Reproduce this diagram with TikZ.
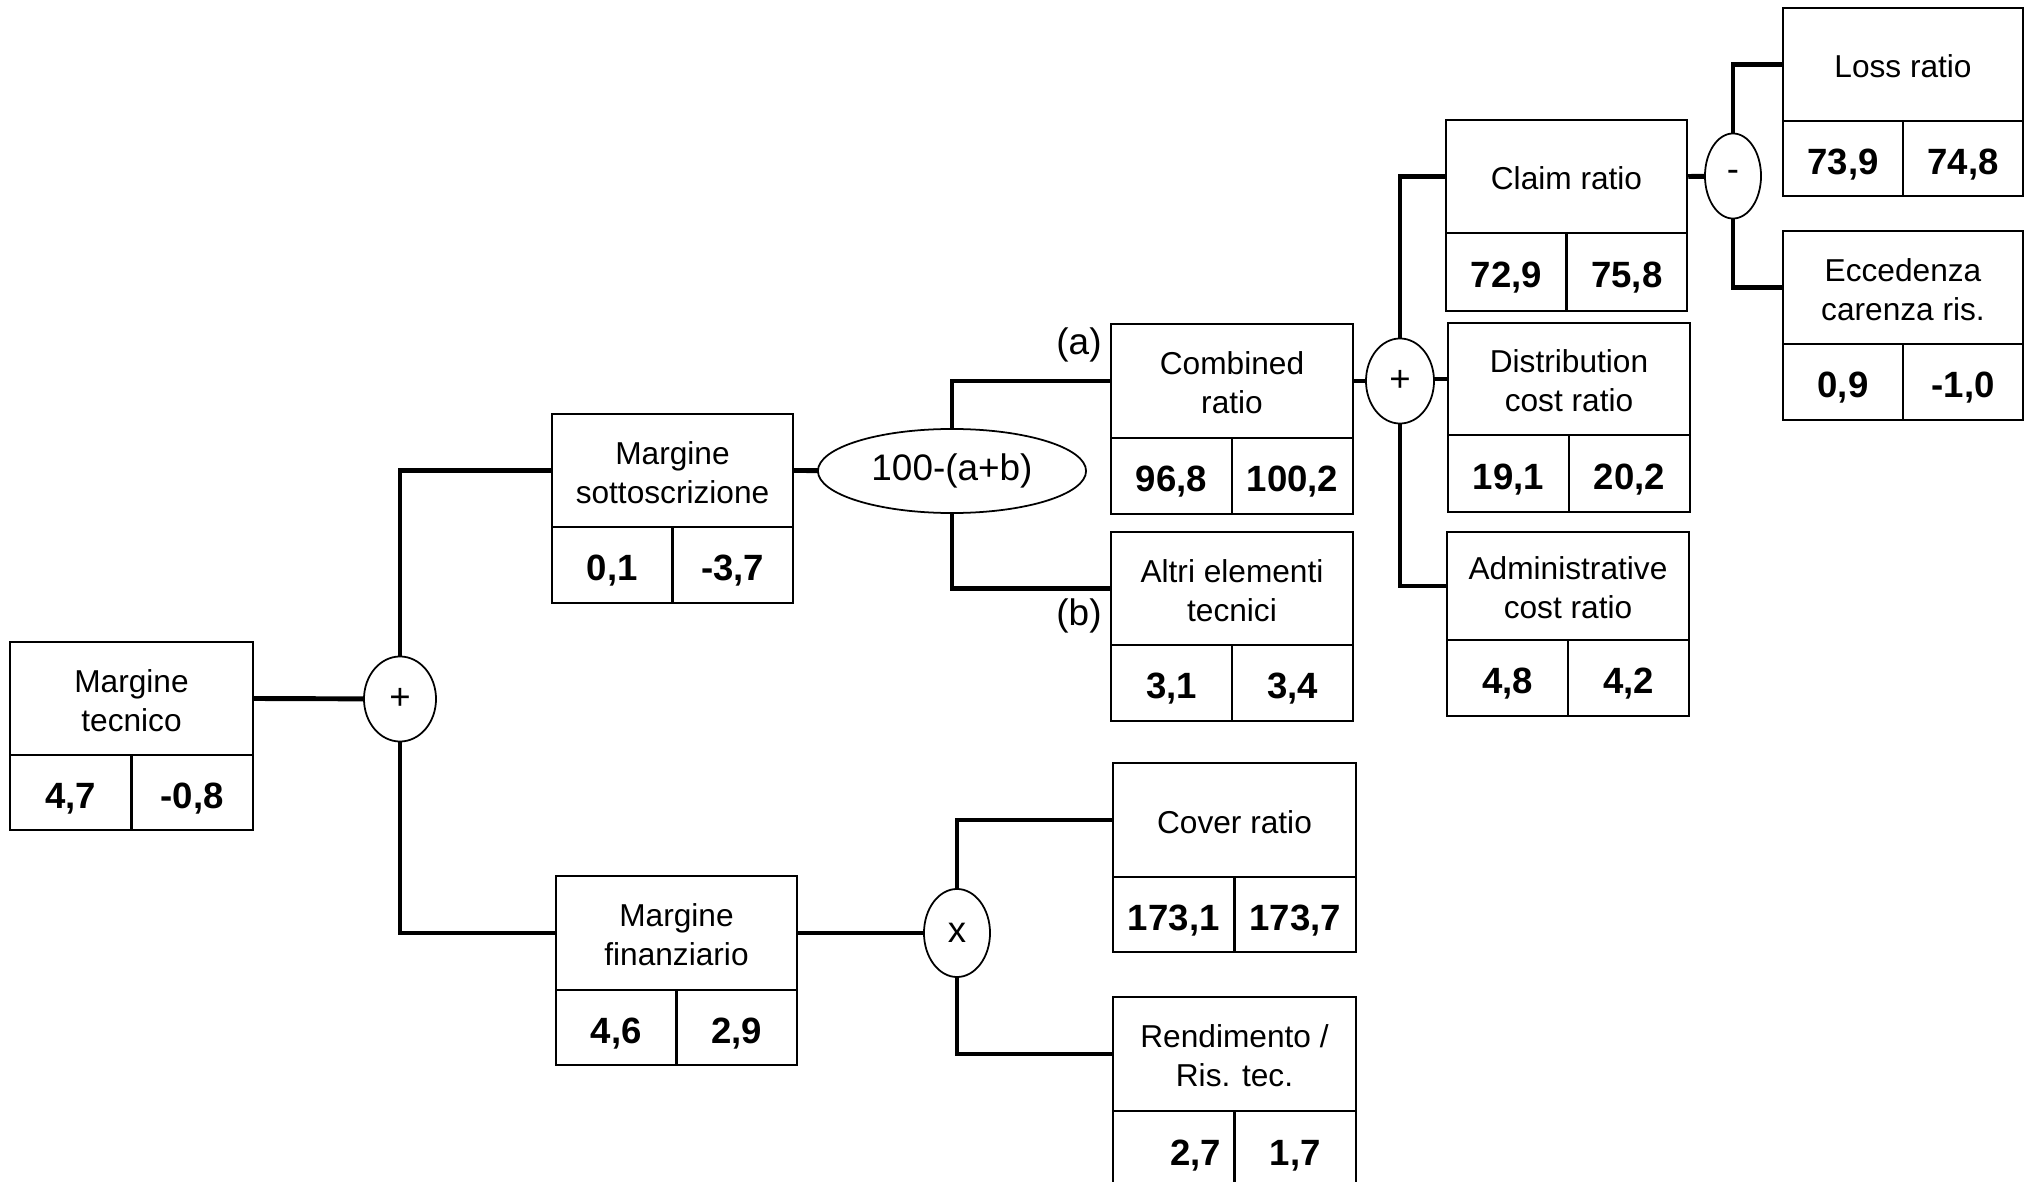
\documentclass[tikz,border=0pt]{standalone}
\usepackage{fontspec}
\setmainfont{Liberation Sans}
\usetikzlibrary{fit,shapes.geometric}
\tikzset{
  boxline/.style={draw, line width=0.7pt, inner sep=0pt},
  cellline/.style={draw, line width=0.7pt, inner sep=0pt},
  titletext/.style={inner sep=0pt, align=center, yshift=-0.02cm, font=\fontsize{9}{11.1}\selectfont},
  valtext/.style={inner sep=0pt, yshift=-0.06cm, font=\fontsize{10.4}{12}\selectfont\bfseries},
  conn/.style={line width=1.4pt},
  opnode/.style={draw, ellipse, fill=white, line width=0.5pt, inner sep=0pt, font=\fontsize{10.4}{12}\selectfont},
  tag/.style={font=\fontsize{10.5}{12}\selectfont, inner sep=0pt}
}
\newcommand\kbox[9]{%
  \pgfmathsetmacro\kxm{(#2+#4)/2}%
  \node[boxline, fit={(#2,#3)(#4,#5)}] (#1) {};
  \node[cellline, fit={(#2,#3)(#4,#6)}] (#1-t) {};
  \node[cellline, fit={(#2,#6)(\kxm,#5)}] (#1-a) {};
  \node[cellline, fit={(\kxm,#6)(#4,#5)}] (#1-b) {};
  \node[titletext] (#1-tx) at (#1-t.center) {#7};
  \node[valtext] (#1-ax) at (#1-a.center) {#8};
  \node[valtext] (#1-bx) at (#1-b.center) {#9};
}
\begin{document}
\begin{tikzpicture}[x=0.01cm, y=-0.01cm]
\useasboundingbox (0,0) rectangle (2026,1182);
\fill[white] (0,0) rectangle (2026,1182);

% boxes
\kbox{mt}{10}{642}{253}{830}{755}{Margine\\tecnico}{4,7}{-0,8}
\kbox{ms}{552}{414}{793}{603}{527}{Margine\\sottoscrizione}{0,1}{-3,7}
\kbox{mf}{556}{876}{797}{1065}{990}{Margine\\finanziario}{4,6}{2,9}
\kbox{cr}{1111}{324}{1353}{514}{438}{Combined\\ratio}{96,8}{100,2}
\kbox{ae}{1111}{532}{1353}{721}{645}{Altri elementi\\tecnici}{3,1}{3,4}
\kbox{cv}{1113}{763}{1356}{952}{877}{Cover ratio}{173,1}{173,7}
\kbox{re}{1113}{997}{1356}{1188}{1111}{Rendimento /\\Ris. tec.}{\hspace{1.2em}2,7}{1,7}
\kbox{cl}{1446}{120}{1687}{311}{233}{Claim ratio}{72,9}{75,8}
\kbox{dc}{1448}{323}{1690}{512}{435}{Distribution\\cost ratio}{19,1}{20,2}
\kbox{ad}{1447}{532}{1689}{716}{640}{Administrative\\cost ratio}{4,8}{4,2}
\kbox{lr}{1783}{8}{2023}{196}{121}{Loss ratio}{73,9}{74,8}
\kbox{ec}{1783}{231}{2023}{420}{344}{Eccedenza\\carenza ris.}{0,9}{-1,0}

% connectors (drawn before operator nodes so these cover them)
\coordinate (p1c) at (400,699);
\coordinate (abc) at (952,471);
\coordinate (p2c) at (1400,381);
\coordinate (mic) at (1733,176);
\coordinate (txc) at (957,933);

\draw[conn] (mt-t.east) -- (p1c);
\draw[conn] (p1c) |- (ms-t.west);
\draw[conn] (p1c) |- (mf-t.west);
\draw[conn] (ms-t.east) -- (abc);
\draw[conn] (abc) |- (cr-t.west);
\draw[conn] (abc) |- (ae-t.west);
\draw[conn] (cr-t.east) -- (cr-t.east -| p2c);
\draw[conn] (p2c) -- (dc-t.west -| p2c) -- (dc-t.west);
\draw[conn] (p2c) |- (cl-t.west);
\draw[conn] (p2c) |- (ad-t.west);
\draw[conn] (cl-t.east) -- (mic);
\draw[conn] (mic) |- (lr-t.west);
\draw[conn] (mic) |- (ec-t.west);
\draw[conn] (mf-t.east) -- (txc);
\draw[conn] (txc) |- (cv-t.west);
\draw[conn] (txc) |- (re-t.west);

% operator nodes
\node[opnode, minimum width=0.72cm, minimum height=0.85cm] (plus1) at (p1c) {+};
\node[opnode, minimum width=2.68cm, minimum height=0.84cm, font=\fontsize{10.5}{12}\selectfont] (abel) at (abc) {\raisebox{-0.6pt}{100-(a+b)}};
\node[opnode, minimum width=0.68cm, minimum height=0.85cm] (plus2) at (p2c) {+};
\node[opnode, minimum width=0.56cm, minimum height=0.85cm] (minus) at (mic) {-};
\node[opnode, minimum width=0.66cm, minimum height=0.88cm] (times) at (txc) {x};

% labels
\node[tag] (la) at (1079,345) {(a)};
\node[tag] (lb) at (1079,616) {(b)};
\end{tikzpicture}
\end{document}
